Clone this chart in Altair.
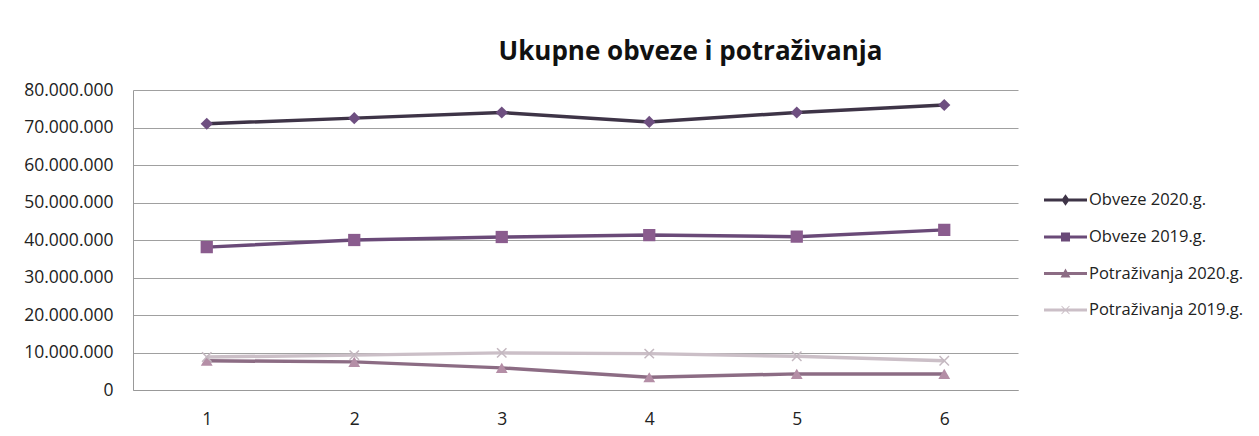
import altair as alt
import pandas as pd

categories = [1, 2, 3, 4, 5, 6]
series_names = ["Obveze 2020.g.", "Obveze 2019.g.", "Potraživanja 2020.g.", "Potraživanja 2019.g."]
obveze_2020 = [71000000, 72500000, 74000000, 71500000, 74000000, 76000000]
obveze_2019 = [38100000, 40000000, 40800000, 41300000, 40900000, 42700000]
potrazivanja_2020 = [7800000, 7500000, 5900000, 3400000, 4300000, 4300000]
potrazivanja_2019 = [8800000, 9300000, 9900000, 9700000, 9000000, 7800000]

line_colors = ["#3e3447", "#6a4a78", "#8c6c84", "#cbbfc7"]
marker_colors = ["#6e4f80", "#8a5c8e", "#b48ea6", "#c4b8c0"]

rows = []
for name, vals in zip(series_names, [obveze_2020, obveze_2019, potrazivanja_2020, potrazivanja_2019]):
    for c, v in zip(categories, vals):
        rows.append({"cat": c, "series": name, "value": v})
df = pd.DataFrame(rows)

X_PATH = "M-1,-0.8L-0.8,-1L0,-0.2L0.8,-1L1,-0.8L0.2,0L1,0.8L0.8,1L0,0.2L-0.8,1L-1,0.8L-0.2,0Z"
plot_shapes = ["diamond", "square", "triangle-up", X_PATH]
plot_sizes = [150, 150, 140, 110]

bar = "M-1,-0.065H1V0.065H-1Z "
legend_shapes = [
    bar + "M0,-0.27L0.19,0L0,0.27L-0.19,0Z",
    bar + "M-0.21,-0.21H0.21V0.21H-0.21Z",
    bar + "M0,-0.23L0.23,0.19H-0.23Z",
    bar + "M-0.2,-0.17L-0.17,-0.2L0,-0.03L0.17,-0.2L0.2,-0.17L0.03,0L0.2,0.17L0.17,0.2L0,0.03L-0.17,0.2L-0.2,0.17L-0.03,0Z",
]
legend_centers = [200, 237, 273.5, 310]

font = "Open Sans"

x_enc = alt.X("cat:O", title=None,
              axis=alt.Axis(labelAngle=0, labelFontSize=17.5, labelColor="#222", labelFont=font,
                            domainColor="#999", ticks=False, labelPadding=20, grid=False),
              scale=alt.Scale(paddingInner=0, paddingOuter=0.5))
y_enc = alt.Y("value:Q", title=None,
              scale=alt.Scale(domain=[0, 80000000]),
              axis=alt.Axis(values=list(range(0, 80000001, 10000000)),
                            labelExpr="replace(format(datum.value, ',d'), /,/g, '.')",
                            labelFontSize=17.5, labelColor="#222", labelFont=font, labelPadding=20,
                            ticks=False, domainColor="#999", gridColor="#a0a0a0", gridWidth=1))

lines = alt.Chart(df).mark_line(strokeWidth=3.5).encode(
    x=x_enc, y=y_enc,
    stroke=alt.Stroke("series:N", sort=series_names,
                      scale=alt.Scale(domain=series_names, range=line_colors), legend=None),
    detail="series:N",
)

point_layers = []
for name, shp, col, sz in zip(series_names, plot_shapes, marker_colors, plot_sizes):
    point_layers.append(
        alt.Chart(df).transform_filter(alt.datum.series == name)
        .mark_point(filled=True, size=sz, opacity=1, shape=shp, color=col)
        .encode(x=x_enc, y=y_enc)
    )

legend_layers = []
for name, path, col, cy in zip(series_names, legend_shapes, line_colors, legend_centers):
    legend_layers.append(
        alt.Chart(df).transform_filter(alt.datum.series == name)
        .mark_point(filled=True, opacity=0, size=1, color=col)
        .encode(
            x=x_enc, y=y_enc,
            shape=alt.Shape("series:N",
                            scale=alt.Scale(domain=[name], range=[path]),
                            legend=alt.Legend(title=None, orient="none", legendX=911,
                                              legendY=cy - 21.5 - 90,
                                              symbolOpacity=1, symbolSize=1849,
                                              symbolStrokeWidth=0, symbolFillColor=col,
                                              labelFontSize=16.5, labelFont=font,
                                              labelColor="#222", labelOffset=2,
                                              labelLimit=400)),
        )
    )

chart = alt.layer(lines, *point_layers, *legend_layers).resolve_scale(
    shape="independent"
).properties(
    width=885, height=300,
    background="white",
    title=alt.TitleParams("Ukupne obveze i potraživanja", font=font, fontSize=26, fontWeight="bold",
                          color="#111", anchor="middle", frame="group", dx=115, offset=16),
    autosize=alt.AutoSizeParams(type="none"),
    padding={"left": 125, "top": 82, "right": 233, "bottom": 38},
).configure_view(stroke=None)

chart.save("out.html", embed_options={"renderer": "svg", "actions": False})
